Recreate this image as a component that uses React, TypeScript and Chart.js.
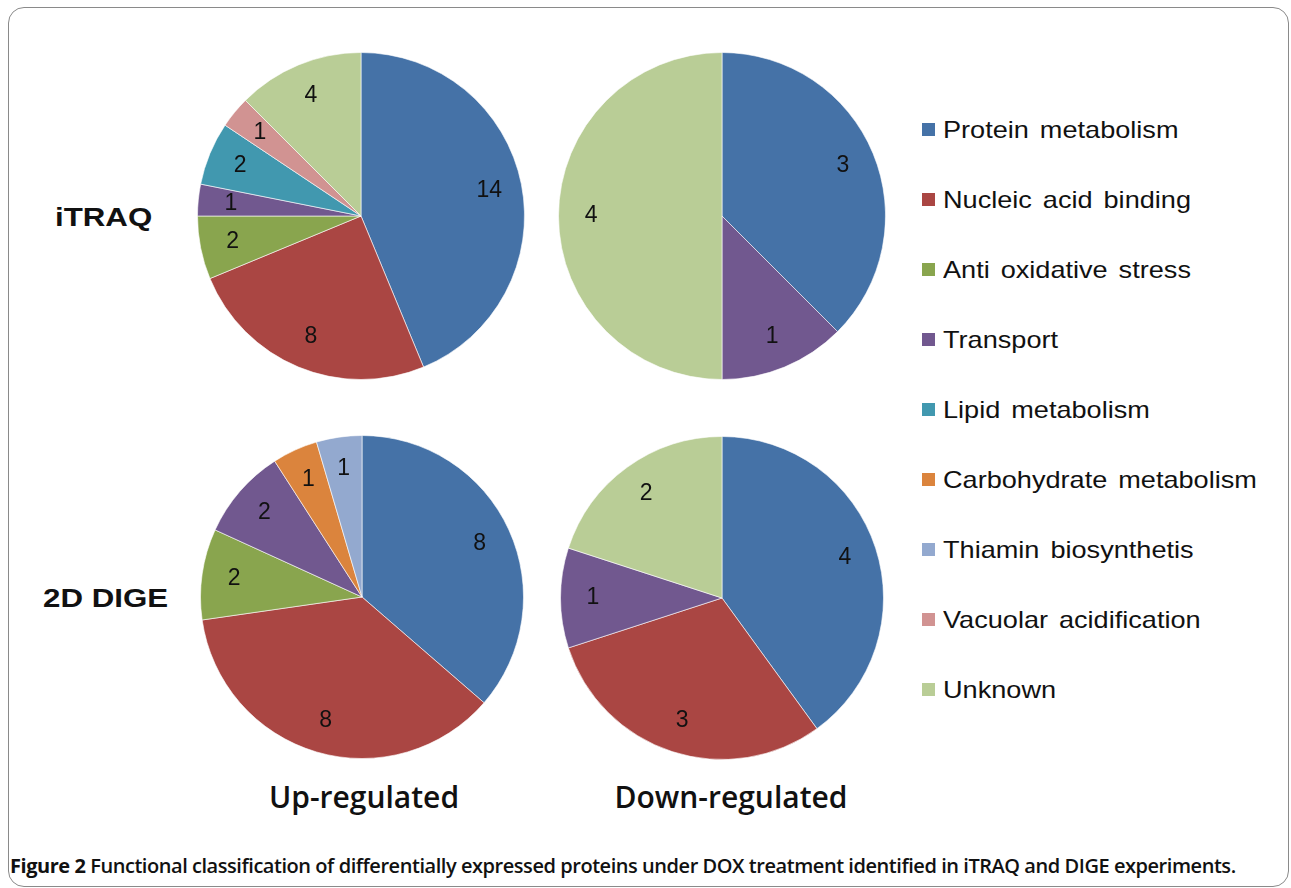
import React, { useEffect, useRef } from "react";
import { Chart, registerables } from "chart.js";
Chart.register(...registerables);

const categories = [
  "Protein metabolism",
  "Nucleic acid binding",
  "Anti oxidative stress",
  "Transport",
  "Lipid metabolism",
  "Carbohydrate metabolism",
  "Thiamin biosynthetis",
  "Vacuolar acidification",
  "Unknown",
];
const colors = ["#4572A7", "#AA4643", "#89A54E", "#71588F", "#4198AF", "#DB843D", "#93A9CF", "#D19392", "#B9CD96"];

const itraqUp = [14, 8, 2, 1, 2, 0, 0, 1, 4];
const itraqDown = [3, 0, 0, 1, 0, 0, 0, 0, 4];
const digeUp = [8, 8, 2, 2, 0, 1, 1, 0, 0];
const digeDown = [4, 3, 0, 1, 0, 0, 0, 0, 2];

const rowLabels = ["iTRAQ", "2D DIGE"];
const colLabels = ["Up-regulated", "Down-regulated"];

const labelPlugin = {
  id: "sliceLabels",
  afterDatasetsDraw(chart: any) {
    const ctx = chart.ctx;
    const meta = chart.getDatasetMeta(0);
    const values = chart.data.datasets[0].data;
    ctx.save();
    ctx.font = '23px "Liberation Sans", Arial, sans-serif';
    ctx.fillStyle = "#111";
    ctx.textAlign = "center";
    ctx.textBaseline = "middle";
    meta.data.forEach((arc: any, i: number) => {
      const v = values[i];
      if (!v) return;
      const p = arc.getProps(["x", "y", "startAngle", "endAngle", "outerRadius"], true);
      const mid = (p.startAngle + p.endAngle) / 2;
      const rr = p.outerRadius * 0.8;
      ctx.fillText(String(v), p.x + Math.cos(mid) * rr, p.y + Math.sin(mid) * rr);
    });
    ctx.restore();
  },
};

function Pie({ values, cx, cy, r }: { values: number[]; cx: number; cy: number; r: number }) {
  const ref = useRef<HTMLCanvasElement>(null);
  const size = 2 * r + 2;
  useEffect(() => {
    const chart = new Chart(ref.current!, {
      type: "pie",
      data: {
        labels: categories,
        datasets: [
          {
            data: values,
            backgroundColor: colors,
            borderColor: "rgba(255,255,255,0.6)",
            borderWidth: 1,
          },
        ],
      },
      options: {
        responsive: false,
        maintainAspectRatio: false,
        animation: false,
        layout: { padding: 0 },
        plugins: { legend: { display: false }, tooltip: { enabled: false } },
      },
      plugins: [labelPlugin],
    });
    return () => chart.destroy();
  }, []);
  return (
    <canvas
      ref={ref}
      width={size}
      height={size}
      style={{ position: "absolute", left: cx - size / 2, top: cy - size / 2, width: size, height: size }}
    />
  );
}

export default function App() {
  const arial = '"Liberation Sans", Arial, sans-serif';
  return (
    <div style={{ position: "absolute", left: 0, top: 0, width: 1291, height: 888, background: "#fff", overflow: "hidden" }}>
      <div
        style={{
          position: "absolute",
          left: 8,
          top: 7,
          width: 1281,
          height: 880,
          border: "1px solid #8a8a8a",
          borderRadius: 16,
          boxSizing: "border-box",
        }}
      />
      <Pie values={itraqUp} cx={361} cy={216} r={163} />
      <Pie values={itraqDown} cx={722} cy={216} r={163} />
      <Pie values={digeUp} cx={362} cy={597} r={161} />
      <Pie values={digeDown} cx={722} cy={598} r={161} />

      {rowLabels.map((t, i) => (
        <div
          key={t}
          style={{
            position: "absolute",
            left: i === 0 ? 55 : 43,
            top: (i === 0 ? 217 : 598) - 15,
            height: 30,
            lineHeight: "30px",
            fontFamily: arial,
            fontWeight: 700,
            fontSize: 25,
            color: "#111",
            transform: "scaleX(1.25)",
            transformOrigin: "left center",
            whiteSpace: "nowrap",
          }}
        >
          {t}
        </div>
      ))}

      {categories.map((c, i) => (
        <div key={c} style={{ position: "absolute", left: 922, top: 130 + i * 70 - 15, height: 30, whiteSpace: "nowrap" }}>
          <div style={{ position: "absolute", left: 0, top: 8, width: 13, height: 13, background: colors[i] }} />
          <div
            style={{
              position: "absolute",
              left: 21,
              top: 0,
              lineHeight: "30px",
              fontFamily: arial,
              fontSize: 24,
              color: "#111",
              wordSpacing: 3,
              transform: "scaleX(1.13)",
              transformOrigin: "left center",
            }}
          >
            {c}
          </div>
        </div>
      ))}

      {colLabels.map((t, i) => (
        <div
          key={t}
          style={{
            position: "absolute",
            left: (i === 0 ? 364 : 731) - 150,
            width: 300,
            top: 797 - 20,
            lineHeight: "40px",
            textAlign: "center",
            fontFamily: '"Open Sans", "Noto Sans", sans-serif',
            fontWeight: 600,
            fontSize: 30,
            color: "#111",
          }}
        >
          {t}
        </div>
      ))}

      <div
        style={{
          position: "absolute",
          left: 10,
          top: 853,
          lineHeight: "26px",
          fontFamily: '"Open Sans", "Noto Sans", sans-serif',
          fontSize: 20,
          fontWeight: 600,
          letterSpacing: -0.45,
          color: "#111",
          whiteSpace: "nowrap",
        }}
      >
        <span style={{ fontWeight: 700 }}>Figure 2</span> Functional classification of differentially expressed proteins under DOX treatment identified in iTRAQ and DIGE experiments.
      </div>
    </div>
  );
}
